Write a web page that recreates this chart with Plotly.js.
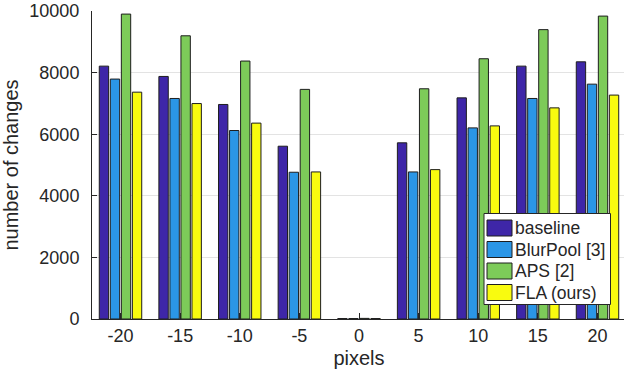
<!DOCTYPE html>
<html>
<head>
<meta charset="utf-8">
<script src="https://cdn.plot.ly/plotly-3.0.1.min.js"></script>
<style>
html,body{margin:0;padding:0;overflow:hidden;background:#fff;}
#chart{width:640px;height:376px;}
</style>
</head>
<body>
<div id="chart"></div>
<script>
var shifts = [-20, -15, -10, -5, 0, 5, 10, 15, 20];
var baseline = [8210, 7875, 6965, 5610, 15, 5720, 7180, 8210, 8350];
var blurpool = [7790, 7160, 6120, 4765, 15, 4775, 6205, 7160, 7625];
var aps      = [9900, 9195, 8375, 7455, 20, 7475, 8450, 9395, 9835];
var fla      = [7365, 6995, 6360, 4775, 15, 4850, 6270, 6855, 7270];
var names = ['baseline', 'BlurPool [3]', 'APS [2]', 'FLA (ours)'];
var colors = ['#3e26a8', '#2b96e6', '#7dcb59', '#f9fb0f'];
var series = [baseline, blurpool, aps, fla];
var yTicks = [0, 2000, 4000, 6000, 8000, 10000];

var W = 640, H = 376, ML = 92, MR = 14, MT = 11, MB = 57;
var PW = W - ML - MR, PH = H - MT - MB;
function px(x){ return (x - ML) / PW; }
function py(y){ return (H - MB - y) / PH; }

var font = {family: 'Liberation Sans, Arial, Helvetica, sans-serif', color: '#262626'};
var traces = series.map(function(vals, i){
  return {
    type: 'bar', x: shifts, y: vals, name: names[i],
    marker: {color: colors[i], line: {color: '#1e1e1e', width: 1}}
  };
});

// custom legend (MATLAB style)
var shapes = [{
  type: 'rect', xref: 'paper', yref: 'paper', layer: 'above',
  x0: px(484), x1: px(610.5), y0: py(213.5), y1: py(304.5),
  fillcolor: '#fff', line: {color: '#262626', width: 1}
}];
var annotations = [];
names.forEach(function(n, i){
  var top = 220 + i * 21.5;
  shapes.push({
    type: 'rect', xref: 'paper', yref: 'paper', layer: 'above',
    x0: px(487), x1: px(512), y0: py(top), y1: py(top + 16),
    fillcolor: colors[i], line: {color: '#1e1e1e', width: 1}
  });
  annotations.push({
    xref: 'paper', yref: 'paper', x: px(513), y: py(top + 8),
    xanchor: 'left', yanchor: 'middle', showarrow: false, text: n,
    font: Object.assign({size: 17.5}, font)
  });
});

var layout = {
  width: W, height: H,
  margin: {l: ML, r: MR, t: MT, b: MB},
  paper_bgcolor: '#fff', plot_bgcolor: '#fff',
  barmode: 'group', bargap: 0.26, bargroupgap: 0.15,
  font: Object.assign({size: 18}, font),
  showlegend: false,
  shapes: shapes, annotations: annotations,
  xaxis: {
    range: [-22.39, 22.39], tickmode: 'array', tickvals: shifts,
    ticktext: shifts.map(String),
    ticks: 'inside', ticklen: 6, tickcolor: '#262626', tickwidth: 1,
    showline: true, linecolor: '#262626', linewidth: 1,
    showgrid: false, zeroline: false,
    tickfont: Object.assign({size: 18}, font),
    title: {text: 'pixels', font: Object.assign({size: 20}, font), standoff: 6}
  },
  yaxis: {
    range: [0, 10000], tickmode: 'array', tickvals: yTicks,
    ticktext: yTicks.map(String),
    ticks: 'inside', ticklen: 5, tickcolor: '#262626', tickwidth: 1,
    showline: true, linecolor: '#262626', linewidth: 1,
    showgrid: true, gridcolor: '#e3e3e3', gridwidth: 1, zeroline: false,
    tickfont: Object.assign({size: 18}, font),
    ticklabelstandoff: 8,
    title: {text: 'number of changes', font: Object.assign({size: 20}, font), standoff: 8}
  }
};
Plotly.newPlot('chart', traces, layout, {displayModeBar: false, staticPlot: true});
</script>
</body>
</html>
